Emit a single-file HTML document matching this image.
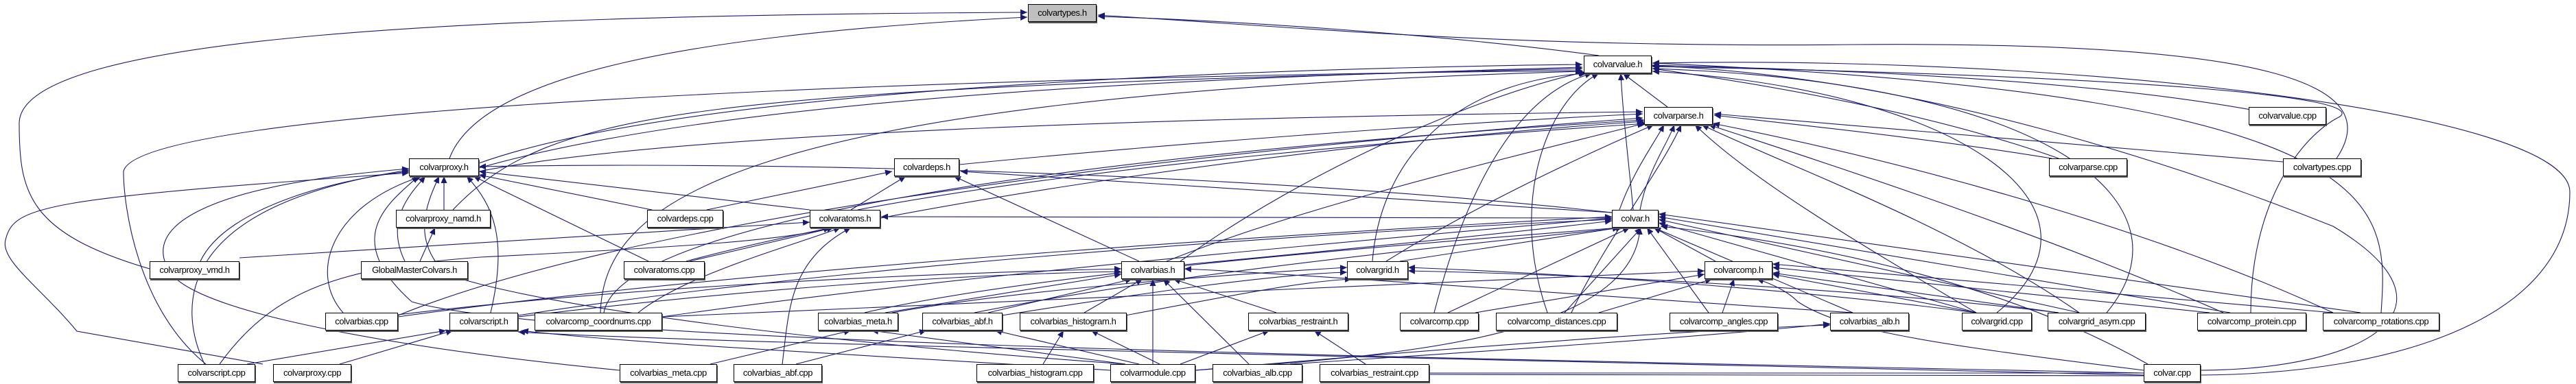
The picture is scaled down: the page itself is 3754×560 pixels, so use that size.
<!DOCTYPE html>
<html><head><meta charset="utf-8">
<style>
html,body{margin:0;padding:0;background:#fff;}
#c{position:relative;width:3754px;height:560px;overflow:hidden;background:#fff;}
svg{position:absolute;left:0;top:0;}
.n{position:absolute;height:24px;border:1px solid #000;background:#fff;box-shadow:1px 2px 0 #555;font-family:"Liberation Sans",sans-serif;font-size:13px;line-height:24px;text-align:center;white-space:nowrap;color:#000;letter-spacing:-0.4px;}
.g{background:#bfbfbf;}
</style></head><body><div id="c">
<svg width="3754" height="560" viewBox="0 0 3754 560">
<defs><marker id="a" markerUnits="userSpaceOnUse" markerWidth="11" markerHeight="9" refX="10" refY="4.5" orient="auto"><path d="M0,0 L10,4.5 L0,9 z" fill="#191970"/></marker></defs>
<g fill="none" stroke="#191970" stroke-width="1.1" marker-end="url(#a)">
<path d="M2330 81 C2100 50 1800 30 1600 24"/>
<path d="M655 231 C700 110 1000 50 1497 25"/>
<path d="M218 392 C40 340 28 280 28 180 C28 50 700 22 1497 18"/>
<path d="M3405 231 C3480 120 3300 60 2700 65 C2200 70 1900 40 1600 22"/>
<path d="M3207 547 C3500 545 3745 460 3745 280 C3745 160 3000 80 2408 92"/>
<path d="M2430 156 L2365 107"/>
<path d="M2380 306 C2375 250 2365 170 2362 107"/>
<path d="M3280 160 C3000 110 2600 100 2408 95"/>
<path d="M3000 231 C2800 160 2550 120 2408 100"/>
<path d="M2000 381 C2010 250 2100 120 2312 107"/>
<path d="M2090 456 C2130 300 2200 140 2320 107"/>
<path d="M2255 456 C2200 300 2250 150 2330 107"/>
<path d="M2910 456 C3100 300 2850 130 2408 104"/>
<path d="M3070 456 C3200 300 3000 120 2408 100"/>
<path d="M3280 456 C3280 300 3350 200 3410 170 C3450 140 3100 110 2408 97"/>
<path d="M3470 456 C3480 300 3500 140 2408 92"/>
<path d="M3200 540 C3450 540 3600 450 3400 330 C3200 250 2800 110 2408 96"/>
<path d="M1720 381 C1900 250 2150 140 2310 105"/>
<path d="M698 238 C1000 130 1800 100 2306 94"/>
<path d="M698 245 C1100 130 1900 110 2306 98"/>
<path d="M660 306 C800 160 1000 130 2306 100"/>
<path d="M300 531 C200 450 180 300 180 250 C200 150 1500 110 2306 103"/>
<path d="M875 456 C880 300 1050 140 2306 104"/>
<path d="M1398 240 C1700 210 2100 180 2394 166"/>
<path d="M1250 306 C1600 240 2100 200 2400 180"/>
<path d="M698 250 C1000 190 1800 170 2394 163"/>
<path d="M2390 306 C2400 250 2430 210 2440 182"/>
<path d="M2360 306 C2380 250 2410 210 2425 182"/>
<path d="M2020 381 C2150 300 2300 230 2410 182"/>
<path d="M1700 381 C1900 300 2200 230 2396 180"/>
<path d="M880 456 C900 330 1500 230 2396 175"/>
<path d="M2290 456 C2340 350 2420 250 2450 182"/>
<path d="M2990 231 C2800 200 2600 180 2498 168"/>
<path d="M3327 236 C3000 210 2700 185 2498 166"/>
<path d="M2880 456 C2700 350 2550 260 2470 182"/>
<path d="M3030 456 C2850 330 2600 240 2480 182"/>
<path d="M3240 456 C3000 350 2700 250 2490 182"/>
<path d="M3400 456 C3150 340 2800 240 2496 180"/>
<path d="M580 460 C900 330 1600 230 2394 172"/>
<path d="M1000 381 C1300 300 1900 210 2396 177"/>
<path d="M647 306 L647 257"/>
<path d="M590 381 C560 320 600 280 620 257"/>
<path d="M292 381 C330 300 500 260 596 250"/>
<path d="M500 456 C450 400 480 300 615 257"/>
<path d="M715 456 C740 350 720 300 680 257"/>
<path d="M298 531 C260 450 250 300 596 248"/>
<path d="M383 531 L112 483 C60 420 0 380 8 350 C20 300 60 290 596 252"/>
<path d="M945 381 L690 257"/>
<path d="M950 306 L698 255"/>
<path d="M1180 306 L698 250"/>
<path d="M2349 310 C1800 250 1100 235 698 243"/>
<path d="M1640 531 C1200 500 800 450 650 400 C600 350 620 300 640 257"/>
<path d="M3124 544 C2000 520 800 500 600 440 C500 350 560 300 610 257"/>
<path d="M903 540 C600 510 300 460 250 400 C200 330 300 270 596 246"/>
<path d="M1240 306 L1320 257"/>
<path d="M1030 306 L1300 250"/>
<path d="M1660 381 L1390 257"/>
<path d="M2349 310 L1400 250"/>
<path d="M612 381 L634 332"/>
<path d="M349 376 L1180 324"/>
<path d="M1005 381 L1215 332"/>
<path d="M930 456 C1000 400 1150 360 1225 332"/>
<path d="M2349 318 L1284 316"/>
<path d="M1140 531 C1150 450 1150 380 1240 332"/>
<path d="M320 531 C400 420 500 390 700 375 C1000 360 1150 350 1210 332"/>
<path d="M2500 381 L2410 332"/>
<path d="M2040 381 L2360 332"/>
<path d="M1726 386 C2000 360 2200 340 2349 322"/>
<path d="M965 462 C1400 400 2000 350 2349 318"/>
<path d="M580 462 C1100 390 1900 340 2349 316"/>
<path d="M755 460 C1200 390 1900 340 2349 320"/>
<path d="M1260 456 C1500 400 2000 360 2360 332"/>
<path d="M1420 456 C1700 400 2100 360 2365 332"/>
<path d="M2110 456 L2375 332"/>
<path d="M2280 456 L2392 332"/>
<path d="M2490 456 L2400 332"/>
<path d="M2700 456 L2410 332"/>
<path d="M2880 456 L2417 325"/>
<path d="M3030 456 L2417 320"/>
<path d="M3250 456 L2417 316"/>
<path d="M3440 456 L2417 312"/>
<path d="M3130 531 C2900 400 2600 350 2420 330"/>
<path d="M1742 540 C2000 520 2380 500 2390 332"/>
<path d="M1290 456 L1634 400"/>
<path d="M1440 456 L1650 407"/>
<path d="M1580 456 L1665 407"/>
<path d="M1860 456 L1710 407"/>
<path d="M1680 531 L1680 407"/>
<path d="M1820 531 L1695 407"/>
<path d="M2700 456 C2300 430 1900 400 1726 392"/>
<path d="M580 459 C900 420 1300 400 1634 392"/>
<path d="M755 462 C1100 420 1400 400 1634 396"/>
<path d="M1300 456 C1500 420 1800 400 1963 390"/>
<path d="M1460 460 C1650 430 1850 400 1963 397"/>
<path d="M1640 460 C1800 430 1900 410 1970 407"/>
<path d="M2880 456 C2600 420 2300 400 2052 390"/>
<path d="M3000 456 C2700 420 2300 400 2052 395"/>
<path d="M2150 456 L2484 400"/>
<path d="M2330 456 L2495 407"/>
<path d="M2510 456 L2527 407"/>
<path d="M3220 456 L2583 390"/>
<path d="M3400 456 L2583 385"/>
<path d="M3000 456 L2583 398"/>
<path d="M2880 456 L2583 400"/>
<path d="M3124 540 C2800 500 2680 480 2620 440 C2600 420 2570 410 2560 407"/>
<path d="M965 462 C1500 440 2000 420 2484 395"/>
<path d="M360 531 L650 482"/>
<path d="M495 531 L660 482"/>
<path d="M1618 540 C1300 520 900 500 760 482"/>
<path d="M3124 547 C2000 520 1000 500 755 484"/>
<path d="M1035 531 L1240 482"/>
<path d="M1640 531 L1270 482"/>
<path d="M1160 531 L1350 482"/>
<path d="M1660 531 L1450 482"/>
<path d="M1520 531 L1550 482"/>
<path d="M1690 531 L1590 482"/>
<path d="M1720 531 L1850 482"/>
<path d="M1990 531 L1915 482"/>
<path d="M1880 531 C2200 510 2500 490 2667 472"/>
<path d="M1742 540 C2200 500 2500 480 2667 474"/>
</g>
<g fill="none" stroke="#191970" stroke-width="1.1">
<path d="M2083 544 L3124 544"/>
<path d="M2083 546 C2600 548 3100 550 3124 548"/>
</g>
</svg>
<div class="n g" style="left:1498px;top:6px;width:98px">colvartypes.h</div>
<div class="n" style="left:2308px;top:81px;width:97px">colvarvalue.h</div>
<div class="n" style="left:2396px;top:156px;width:98px">colvarparse.h</div>
<div class="n" style="left:3277px;top:156px;width:111px">colvarvalue.cpp</div>
<div class="n" style="left:596px;top:231px;width:100px">colvarproxy.h</div>
<div class="n" style="left:1303px;top:231px;width:93px">colvardeps.h</div>
<div class="n" style="left:2986px;top:231px;width:112px">colvarparse.cpp</div>
<div class="n" style="left:3327px;top:231px;width:112px">colvartypes.cpp</div>
<div class="n" style="left:577px;top:306px;width:136px">colvarproxy_namd.h</div>
<div class="n" style="left:943px;top:306px;width:109px">colvardeps.cpp</div>
<div class="n" style="left:1180px;top:306px;width:101px">colvaratoms.h</div>
<div class="n" style="left:2349px;top:306px;width:66px">colvar.h</div>
<div class="n" style="left:218px;top:381px;width:129px">colvarproxy_vmd.h</div>
<div class="n" style="left:526px;top:381px;width:154px">GlobalMasterColvars.h</div>
<div class="n" style="left:909px;top:381px;width:116px">colvaratoms.cpp</div>
<div class="n" style="left:1634px;top:381px;width:90px">colvarbias.h</div>
<div class="n" style="left:1963px;top:381px;width:87px">colvargrid.h</div>
<div class="n" style="left:2484px;top:381px;width:97px">colvarcomp.h</div>
<div class="n" style="left:474px;top:456px;width:104px">colvarbias.cpp</div>
<div class="n" style="left:655px;top:456px;width:98px">colvarscript.h</div>
<div class="n" style="left:779px;top:456px;width:184px">colvarcomp_coordnums.cpp</div>
<div class="n" style="left:1192px;top:456px;width:115px">colvarbias_meta.h</div>
<div class="n" style="left:1344px;top:456px;width:115px">colvarbias_abf.h</div>
<div class="n" style="left:1486px;top:456px;width:154px">colvarbias_histogram.h</div>
<div class="n" style="left:1819px;top:456px;width:144px">colvarbias_restraint.h</div>
<div class="n" style="left:2040px;top:456px;width:113px">colvarcomp.cpp</div>
<div class="n" style="left:2180px;top:456px;width:175px">colvarcomp_distances.cpp</div>
<div class="n" style="left:2433px;top:456px;width:156px">colvarcomp_angles.cpp</div>
<div class="n" style="left:2667px;top:456px;width:113px">colvarbias_alb.h</div>
<div class="n" style="left:2859px;top:456px;width:100px">colvargrid.cpp</div>
<div class="n" style="left:2984px;top:456px;width:141px">colvargrid_asym.cpp</div>
<div class="n" style="left:3202px;top:456px;width:157px">colvarcomp_protein.cpp</div>
<div class="n" style="left:3385px;top:456px;width:168px">colvarcomp_rotations.cpp</div>
<div class="n" style="left:259px;top:531px;width:111px">colvarscript.cpp</div>
<div class="n" style="left:398px;top:531px;width:112px">colvarproxy.cpp</div>
<div class="n" style="left:903px;top:531px;width:140px">colvarbias_meta.cpp</div>
<div class="n" style="left:1069px;top:531px;width:127px">colvarbias_abf.cpp</div>
<div class="n" style="left:1423px;top:531px;width:169px">colvarbias_histogram.cpp</div>
<div class="n" style="left:1618px;top:531px;width:122px">colvarmodule.cpp</div>
<div class="n" style="left:1767px;top:531px;width:129px">colvarbias_alb.cpp</div>
<div class="n" style="left:1923px;top:531px;width:158px">colvarbias_restraint.cpp</div>
<div class="n" style="left:3124px;top:531px;width:81px">colvar.cpp</div>
</div></body></html>
